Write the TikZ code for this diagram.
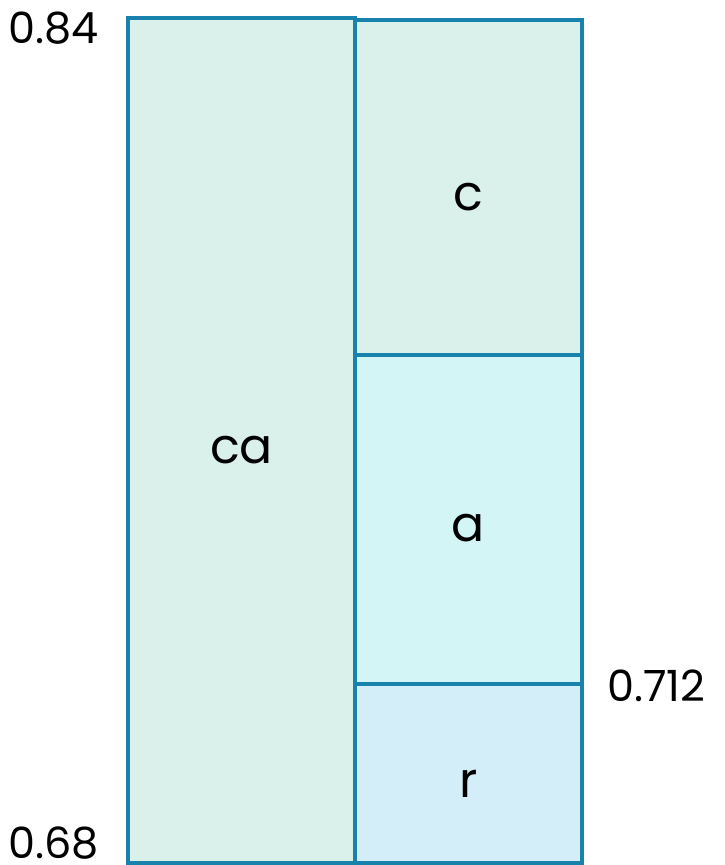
\documentclass[tikz,border=0pt]{standalone}
\usepackage{fontspec}
\setmainfont{Poppins}
\usepackage{tikz}
\usetikzlibrary{positioning}
\definecolor{cellline}{HTML}{1783AD}
\definecolor{cellmint}{HTML}{DAF0EA}
\definecolor{cellaqua}{HTML}{D3F5F6}
\definecolor{cellsky}{HTML}{D3EEF8}

\begin{document}
\begin{tikzpicture}[
  x=1pt, y=-1pt,
  cell/.style={rectangle, draw=cellline, line width=3.2pt, inner sep=0pt,
               outer sep=0pt, minimum width=227pt},
  sym/.style={font=\fontsize{49}{50}\selectfont, inner sep=0pt},
  val/.style={font=\fontsize{43}{44}\selectfont, inner sep=0pt},
]
\useasboundingbox (0,0) rectangle (724,865);
% the interval split
\node[cell, fill=cellmint, minimum height=845pt] (ca) at (241.5,440.5) {};
\node[cell, fill=cellmint, minimum height=335pt] (c) at (468.5,187.5) {};
\node[cell, fill=cellaqua, minimum height=329pt, below=0pt of c] (a) {};
\node[cell, fill=cellsky, minimum height=179pt, below=0pt of a] (r) {};
% symbols
\node[sym] (lca) at ([yshift=-10pt]ca.center) {ca};
\node[sym] (lc) at ([yshift=-10pt]c.center) {c};
\node[sym] (la) at ([yshift=-9pt]a.center) {a};
\node[sym] (lr) at ([yshift=-10pt]r.center) {r};
% bounds
\node[val, anchor=east] (hi) at (99,28.5) {0.84};
\node[val, anchor=east] (lo) at (99,843) {0.68};
\node[val, anchor=west] (mid) at (607,686) {0.712};
\end{tikzpicture}
\end{document}
